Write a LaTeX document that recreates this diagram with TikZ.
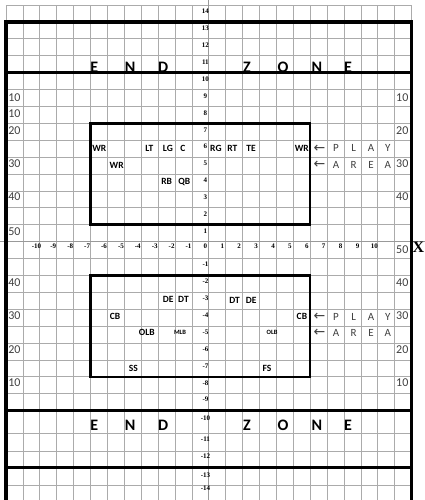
\documentclass[tikz,border=0pt]{standalone}
\usepackage{fontspec}
\setmainfont{Carlito}
\newfontfamily\serifnum{Liberation Serif}
\newfontfamily\arrowfont{DejaVu Sans}
\usepackage{tikz}
\definecolor{gridGray}{HTML}{ABABAB}
\definecolor{yardGray}{HTML}{3F3F3F}

\begin{document}
\begin{tikzpicture}[x=16.9pt, y=16.9pt, every node/.style={inner sep=0pt},
    player/.style={font=\fontsize{9.5}{10}\selectfont\bfseries},
    smallplayer/.style={font=\fontsize{6.5}{7}\selectfont\bfseries},
    yard/.style={font=\fontsize{12}{12}\selectfont, text=yardGray},
    areatext/.style={font=\fontsize{11}{11}\selectfont, text=yardGray},
    endzone/.style={font=\fontsize{16}{16}\selectfont\bfseries},
    axisnum/.style={font=\serifnum\fontsize{7}{7}\selectfont\bfseries}]
  \useasboundingbox (-12.355,-15.29) rectangle (12.793,14.296);
  % grid
  \foreach \x in {-12,...,12} \draw[gridGray, line width=0.7pt] (\x,14) -- (\x,-15.29);
  \foreach \y in {14,13,...,-10} \draw[gridGray, line width=0.7pt] (-12,\y) -- (12,\y);
  \foreach \y in {-11.35,-12.4,-13.35,-14.45} \draw[gridGray, line width=0.7pt] (-12,\y) -- (12,\y);
  % axes
  \draw[gray!80, line width=0.7pt] (-12.355,0) -- (12.793,0);
  \draw[gray!80, line width=0.7pt] (0,14.296) -- (0,-15.29);
  \foreach \n in {-10,...,10} \node[axisnum] (xn\n) at (\n-0.2,-0.28) {\n};
  \foreach \n in {1,...,14} \node[axisnum] (yn\n) at (-0.2,\n-0.38) {\n};
  \foreach \n in {-1,...,-9} \node[axisnum] (yn\n) at (-0.2,\n-0.35) {\n};
  \foreach \n/\y in {-10/-10.45, -11/-11.7, -12/-12.7, -13/-13.8, -14/-14.6}
    \node[axisnum] (yn\n) at (-0.2,\y) {\n};
  \node[font=\serifnum\bfseries\fontsize{16}{16}\selectfont] (xlab) at (12.4,-0.36) {X};
  % end zones
  \foreach \l/\x [count=\i] in {E/-6.78, N/-4.66, D/-2.7, Z/2.26, O/4.39, N/6.4, E/8.24} {
    \node[endzone, anchor=base] (ezTop\i) at (\x,9.98) {\l};
    \node[endzone] (ezBot\i) at (\x,-10.85) {\l};
  }
  % frame
  \draw[line width=3.4pt, line join=miter] (-12,-15.4) -- (-12,13) -- (12,13) -- (12,-15.4);
  \foreach \y in {10,-10,-13.35} \draw[line width=3.4pt] (-12,\y) -- (12,\y);
  % yard numbers
  \foreach \t/\y [count=\i] in {10/8.5, 10/7.55, 20/6.54, 30/4.59, 40/2.64, 50/0.57,
      40/-2.45, 30/-4.4, 20/-6.41, 10/-8.37}
    \node[yard] (ydL\i) at (-11.5,\y) {\t};
  \foreach \t/\y [count=\i] in {10/8.5, 20/6.54, 30/4.59, 40/2.64, 50/-0.45,
      40/-2.45, 30/-4.4, 20/-6.41, 10/-8.37}
    \node[yard] (ydR\i) at (11.45,\y) {\t};
  % play areas
  \draw[line width=2.6pt] (-7,7) rectangle (6,1);
  \draw[line width=2.6pt] (-7,-2) rectangle (6,-8);
  % offense
  \node[player] (wr1) at (-6.48,5.52) {WR};
  \node[player] (wr2) at (-5.45,4.53) {WR};
  \node[player] (lt) at (-3.52,5.52) {LT};
  \node[player] (lg) at (-2.42,5.52) {LG};
  \node[player] (c) at (-1.54,5.52) {C};
  \node[player] (rg) at (0.42,5.52) {RG};
  \node[player] (rt) at (1.4,5.52) {RT};
  \node[player] (te) at (2.5,5.52) {TE};
  \node[player] (wr3) at (5.5,5.52) {WR};
  \node[player] (rb) at (-2.49,3.54) {RB};
  \node[player] (qb) at (-1.45,3.54) {QB};
  % defense
  \node[player] (de1) at (-2.4,-3.45) {DE};
  \node[player] (dt1) at (-1.5,-3.45) {DT};
  \node[player] (dt2) at (1.53,-3.5) {DT};
  \node[player] (de2) at (2.51,-3.5) {DE};
  \node[player] (cb1) at (-5.55,-4.44) {CB};
  \node[player] (cb2) at (5.51,-4.44) {CB};
  \node[player] (olb1) at (-3.67,-5.4) {OLB};
  \node[smallplayer] (mlb) at (-1.7,-5.4) {MLB};
  \node[smallplayer] (olb2) at (3.74,-5.4) {OLB};
  \node[player] (ss) at (-4.47,-7.5) {SS};
  \node[player] (fs) at (3.44,-7.5) {FS};
  % play area labels
  \foreach \y [count=\r] in {5.52, 4.53, -4.44, -5.39}
    \node[areatext, font=\arrowfont\fontsize{14}{14}\selectfont] (arw\r) at (6.55,\y) {←};
  \foreach \l/\x [count=\i] in {P/7.53, L/8.57, A/9.6, Y/10.59} {
    \node[areatext] (playA\i) at (\x,5.52) {\l};
    \node[areatext] (playB\i) at (\x,-4.44) {\l};
  }
  \foreach \l/\x [count=\i] in {A/7.53, R/8.57, E/9.6, A/10.59} {
    \node[areatext] (areaA\i) at (\x,4.53) {\l};
    \node[areatext] (areaB\i) at (\x,-5.39) {\l};
  }
\end{tikzpicture}
\end{document}
